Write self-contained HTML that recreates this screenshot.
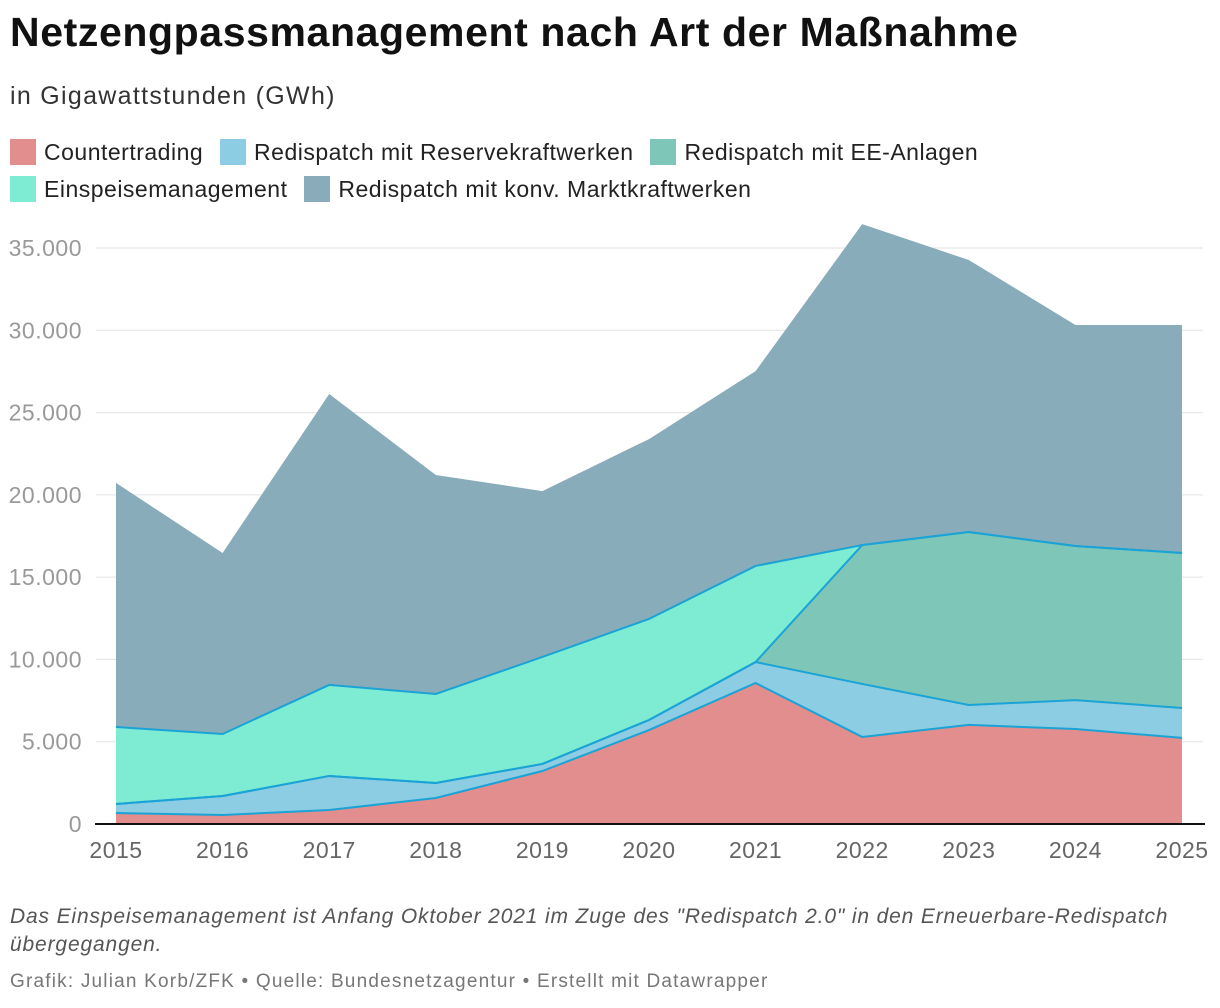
<!DOCTYPE html>
<html><head><meta charset="utf-8"><style>
body{margin:0;background:#fff;width:1220px;height:1008px;overflow:hidden;font-family:"Liberation Sans",sans-serif}
.t{position:absolute;left:10px;white-space:nowrap}
.lg{display:inline-flex;align-items:center;margin-right:10px}
.sw{display:inline-block;width:26px;height:26px;margin-right:8px}
</style></head><body>
<div class="t" style="top:9px;font-size:41px;font-weight:bold;color:#111;letter-spacing:0.6px">Netzengpassmanagement nach Art der Maßnahme</div>
<div class="t" style="top:82px;font-size:25px;color:#333;letter-spacing:1.3px">in Gigawattstunden (GWh)</div>
<div class="t" style="top:136px;font-size:23px;color:#222;line-height:32px;width:1100px;white-space:normal;letter-spacing:0.5px">
<span class="lg"><span class="sw" style="background:#e28e8e"></span>Countertrading</span>
<span class="lg"><span class="sw" style="background:#8ccde3"></span>Redispatch mit Reservekraftwerken</span>
<span class="lg"><span class="sw" style="background:#7ec7b8"></span>Redispatch mit EE-Anlagen</span><br>
<span class="lg"><span class="sw" style="background:#7eecd3"></span>Einspeisemanagement</span>
<span class="lg"><span class="sw" style="background:#89acba"></span>Redispatch mit konv. Marktkraftwerken</span>
</div>
<svg id="c" width="1220" height="1008" style="position:absolute;left:0;top:0"></svg>
<div class="t" style="top:903px;font-size:21px;font-style:italic;color:#555;line-height:28px;white-space:normal;width:1195px;letter-spacing:0.85px">Das Einspeisemanagement ist Anfang Oktober 2021 im Zuge des "Redispatch 2.0" in den Erneuerbare-Redispatch übergegangen.</div>
<div class="t" style="top:971px;font-size:19px;color:#777;letter-spacing:1.2px">Grafik: Julian Korb/ZFK • Quelle: Bundesnetzagentur • Erstellt mit Datawrapper</div>
<script>
const years=[2015,2016,2017,2018,2019,2020,2021,2022,2023,2024,2025];
const countertrading=[668,547,850,1580,3220,5710,8570,5290,6020,5770,5230];
const reserve=[547,1153,2070,910,430,610,1270,3220,1210,1760,1820];
const eeAnlagen=[0,0,0,0,0,0,0,8440,10510,9360,9420];
const einspeise=[4680,3770,5530,5410,6500,6140,5840,0,0,0,0];
const konv=[14830,11000,17680,13310,10080,10930,11840,19500,16530,13430,13850];
const yTicks=[0,5000,10000,15000,20000,25000,30000,35000];
const yTickLabels=["0","5.000","10.000","15.000","20.000","25.000","30.000","35.000"];
const NS="http://www.w3.org/2000/svg",svg=document.getElementById('c');
const x=i=>116+i*(1182-116)/(years.length-1);
const y=v=>824-v*(576/35000);
function mk(t,a){const e=document.createElementNS(NS,t);for(const k in a)e.setAttribute(k,a[k]);svg.appendChild(e);return e;}
yTicks.forEach((v,i)=>{
 const l=mk('line',{x1:96,x2:1203,y1:y(v),y2:y(v),stroke:'#e2e2e2','stroke-width':1});
 
 
 const t=mk('text',{x:82,y:y(v)+8,'text-anchor':'end','font-size':23,fill:'#999','font-family':'Liberation Sans','letter-spacing':0.5});
 t.textContent=yTickLabels[i];
 
 
});
const series=[[countertrading,'#e28e8e','countertrading'],[reserve,'#8ccde3','reserve'],[eeAnlagen,'#7ec7b8','ee-anlagen'],[einspeise,'#7eecd3','einspeise'],[konv,'#89acba','konv']];
let base=years.map(()=>0);
series.forEach(([d,col,n],si)=>{
 const top=base.map((b,i)=>b+d[i]);
 let p=top.map((v,i)=>x(i)+','+y(v)).join(' ')+' '+base.map((v,i)=>x(i)+','+y(v)).reverse().join(' ');
 const a=mk('polygon',{points:p,fill:col});
 
 
 base=top;
});
base=years.map(()=>0);
series.forEach(([d,col,n],si)=>{
 const top=base.map((b,i)=>b+d[i]);
 if(si<4){const l=mk('polyline',{points:top.map((v,i)=>x(i)+','+y(v)).join(' '),fill:'none',stroke:'#1ba3d6','stroke-width':2});
 
 }
 base=top;
});
const b=mk('line',{x1:95,x2:1205,y1:824,y2:824,stroke:'#111','stroke-width':2});


years.forEach((yr,i)=>{
 const t=mk('text',{x:x(i),y:858,'text-anchor':'middle','font-size':23,fill:'#666','font-family':'Liberation Sans','letter-spacing':0.5});
 t.textContent=yr;
 
 
});
</script>
</body></html>
